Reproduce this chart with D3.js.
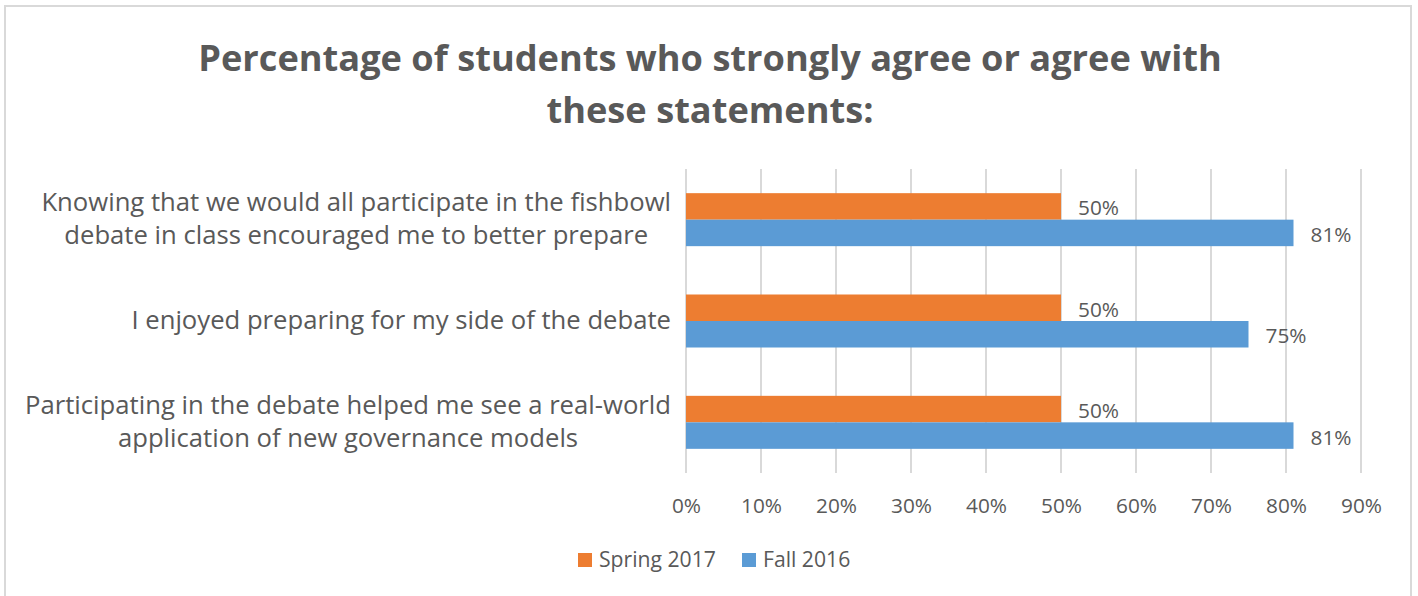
<!DOCTYPE html>
<html>
<head>
<meta charset="utf-8">
<script src="https://cdn.jsdelivr.net/npm/d3@7"></script>
<style>
  html, body { margin: 0; padding: 0; background: #fff; }
  svg { display: block; font-family: "Open Sans", "Noto Sans", sans-serif; }
</style>
</head>
<body>
<svg id="chart" width="1418" height="596"></svg>
<script>
// Survey statements (each entry holds the wrapped lines of one axis label)
const categories = [
  ["Knowing that we would all participate in the fishbowl", "debate in class encouraged me to better prepare"],
  ["I enjoyed preparing for my side of the debate"],
  ["Participating in the debate helped me see a real-world", "application of new governance models"]
];
const seriesNames = ["Spring 2017", "Fall 2016"];
const spring2017 = [0.50, 0.50, 0.50];
const fall2016 = [0.81, 0.75, 0.81];
const tickValues = [0, 0.1, 0.2, 0.3, 0.4, 0.5, 0.6, 0.7, 0.8, 0.9];
const titleLines = ["Percentage of students who strongly agree or agree with", "these statements:"];

const colors = { "Spring 2017": "#ED7D31", "Fall 2016": "#5B9BD5" };
const textColor = "#595959";
const gridColor = "#D9D9D9";

const svg = d3.select("#chart");

// pick a font size so that `sample` renders at `width` pixels
function fitSize(sample, width, weight) {
  const t = svg.append("text").attr("font-size", 100).attr("font-weight", weight || "normal").text(sample);
  const w = t.node().getComputedTextLength();
  t.remove();
  return 100 * width / w;
}
const titleSize = fitSize(titleLines[0], 1024, "bold");
const labelSize = fitSize(categories[0][0], 630);
const tickSize = fitSize("90%", 41);
const legendSize = fitSize("Spring 2017", 117);

// outer chart frame
svg.append("rect")
  .attr("x", 5).attr("y", 6).attr("width", 1406).attr("height", 600)
  .attr("fill", "#fff").attr("stroke", gridColor).attr("stroke-width", 2);

// title
svg.append("g").selectAll("text").data(titleLines).join("text")
  .attr("x", 710)
  .attr("y", (d, i) => 71 + i * 52)
  .attr("text-anchor", "middle")
  .attr("fill", textColor)
  .attr("font-size", titleSize)
  .attr("font-weight", "bold")
  .text(d => d);

const plot = { left: 686, right: 1361, top: 169, bottom: 473 };
const keys = categories.map((c, i) => i);

const x = d3.scaleLinear().domain([0, 0.9]).range([plot.left, plot.right]);
const y0 = d3.scaleBand().domain(keys).range([plot.top, plot.bottom])
  .paddingInner(0.477).paddingOuter(0.2385);
const y1 = d3.scaleBand().domain(seriesNames).range([0, y0.bandwidth()]);

// vertical gridlines
svg.append("g").selectAll("line").data(tickValues).join("line")
  .attr("x1", d => x(d)).attr("x2", d => x(d))
  .attr("y1", plot.top).attr("y2", plot.bottom)
  .attr("stroke", gridColor).attr("stroke-width", 2);

// tick labels via d3 axis
const xAxis = d3.axisBottom(x).tickValues(tickValues).tickFormat(d3.format(".0%")).tickSize(0);
const axisG = svg.append("g")
  .attr("transform", `translate(0,${plot.bottom})`)
  .call(xAxis);
axisG.select(".domain").remove();
axisG.selectAll("text")
  .attr("fill", textColor)
  .attr("font-size", tickSize)
  .attr("font-family", "'Open Sans', 'Noto Sans', sans-serif")
  .attr("dy", null)
  .attr("y", 40);

// bars
const rows = keys.map(i => ({ key: i, values: [
  { name: "Spring 2017", value: spring2017[i] },
  { name: "Fall 2016", value: fall2016[i] }
]}));

const groups = svg.append("g").selectAll("g").data(rows).join("g")
  .attr("transform", d => `translate(0,${y0(d.key)})`);

groups.selectAll("rect").data(d => d.values).join("rect")
  .attr("x", x(0))
  .attr("y", d => y1(d.name))
  .attr("width", d => x(d.value) - x(0))
  .attr("height", y1.bandwidth())
  .attr("fill", d => colors[d.name]);

groups.selectAll("text.val").data(d => d.values).join("text")
  .attr("class", "val")
  .attr("x", d => x(d.value) + 17)
  .attr("y", d => y1(d.name) + y1.bandwidth() / 2 + 1)
  .attr("dominant-baseline", "central")
  .attr("fill", textColor)
  .attr("font-size", tickSize)
  .text(d => d3.format(".0%")(d.value));

// category labels: block right-aligned to the plot, lines centred within the block
const labelRight = 671;
const lineGap = 33;
const labelG = svg.append("g");
categories.forEach((lines, i) => {
  const g = labelG.append("g");
  const cy = y0(i) + y0.bandwidth() / 2;
  const texts = g.selectAll("text").data(lines).join("text")
    .attr("fill", textColor)
    .attr("font-size", labelSize)
    .attr("text-anchor", "middle")
    .attr("y", (d, j) => cy + 8 + (j - (lines.length - 1) / 2) * lineGap)
    .text(d => d);
  let maxW = 0;
  texts.each(function () { maxW = Math.max(maxW, this.getComputedTextLength()); });
  texts.attr("x", labelRight - maxW / 2);
});

// legend
const legend = svg.append("g");
const legendX = [578, 742];
seriesNames.forEach((name, i) => {
  legend.append("rect")
    .attr("x", legendX[i]).attr("y", 553).attr("width", 14).attr("height", 14)
    .attr("fill", colors[name]);
  legend.append("text")
    .attr("x", legendX[i] + 21).attr("y", 567)
    .attr("fill", textColor)
    .attr("font-size", legendSize)
    .text(name);
});
</script>
</body>
</html>
